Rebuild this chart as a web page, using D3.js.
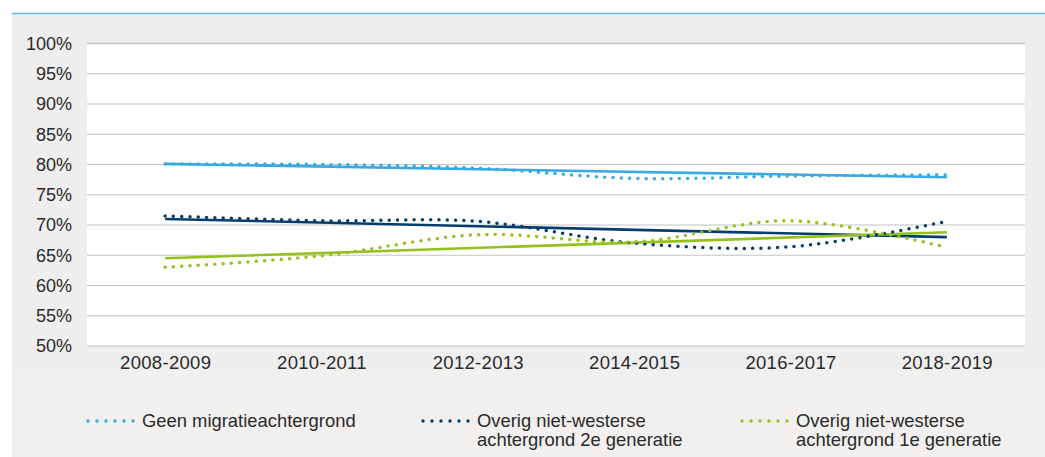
<!DOCTYPE html>
<html><head><meta charset="utf-8">
<script src="https://cdn.jsdelivr.net/npm/d3@7"></script>
<style>
html,body{margin:0;padding:0;background:#fff;}
svg{display:block;font-family:"Liberation Sans",Arial,sans-serif;}
</style></head>
<body>
<svg id="chart" width="1045" height="457"></svg>
<script>
// ---- data ----
const categories = ["2008-2009","2010-2011","2012-2013","2014-2015","2016-2017","2018-2019"];
const geenMigratie = [80.1, 80.0, 79.4, 77.7, 78.1, 78.3];
const tweedeGeneratie = [71.5, 70.7, 70.6, 67.0, 66.4, 70.6];
const eersteGeneratie = [63.0, 64.9, 68.4, 67.2, 70.7, 66.3];
// linear trendlines (first and last category)
const trendGeen = [80.1, 77.9];
const trendTweede = [71.0, 68.0];
const trendEerste = [64.5, 68.8];
const yTicks = [50,55,60,65,70,75,80,85,90,95,100];
const legendLabels = [
  ["Geen migratieachtergrond"],
  ["Overig niet-westerse","achtergrond 2e generatie"],
  ["Overig niet-westerse","achtergrond 1e generatie"]
];

const colors = ["#38a9e1", "#053d6c", "#95c11f"];
const series = [
  {values: geenMigratie, trend: trendGeen, color: colors[0]},
  {values: tweedeGeneratie, trend: trendTweede, color: colors[1]},
  {values: eersteGeneratie, trend: trendEerste, color: colors[2]}
];

const svg = d3.select("#chart");
const plot = {left: 87, right: 1025, top: 43.5, bottom: 346};

// background panels
svg.append("rect").attr("x",12).attr("y",14).attr("width",1033).attr("height",355).attr("fill","#eeeeee");
svg.append("rect").attr("x",12).attr("y",369).attr("width",1033).attr("height",88).attr("fill","#f2f0ee");
svg.append("line").attr("x1",12).attr("x2",1045).attr("y1",13.5).attr("y2",13.5)
  .attr("stroke","#62b7e6").attr("stroke-width",1.5);
svg.append("rect").attr("x",plot.left).attr("y",plot.top).attr("width",plot.right-plot.left)
  .attr("height",plot.bottom-plot.top).attr("fill","#ffffff");

const x = d3.scalePoint().domain(categories).range([plot.left, plot.right]).padding(0.5);
const y = d3.scaleLinear().domain([50,100]).range([plot.bottom, plot.top]);

// gridlines
svg.append("g").selectAll("line").data(yTicks).join("line")
  .attr("x1",plot.left).attr("x2",plot.right)
  .attr("y1",d=>y(d)).attr("y2",d=>y(d))
  .attr("stroke","#c3c3c3").attr("stroke-width",d=>d===100?1.6:1.1);

// y axis labels
const yAxis = d3.axisLeft(y).tickValues(yTicks).tickFormat(d=>d+"%").tickSize(0).tickPadding(0);
const gy = svg.append("g").attr("transform","translate(72,0)").call(yAxis);
gy.select(".domain").remove();
gy.selectAll("text").attr("font-size",18).attr("fill","#2a2a2a")
  .attr("font-family","'Liberation Sans',Arial,sans-serif");

// x axis labels
const xAxis = d3.axisBottom(x).tickSize(0).tickPadding(0);
const gx = svg.append("g").attr("transform","translate(0,355)").call(xAxis);
gx.select(".domain").remove();
gx.selectAll("text").attr("font-size",18.5).attr("fill","#2a2a2a").attr("dy","0.78em")
  .attr("letter-spacing","0.3px")
  .attr("font-family","'Liberation Sans',Arial,sans-serif");

// trendlines
const trendLine = d3.line().x(d=>x(d[0])).y(d=>y(d[1]));
series.forEach(s=>{
  svg.append("path")
    .attr("d", trendLine([[categories[0], s.trend[0]],[categories[categories.length-1], s.trend[1]]]))
    .attr("fill","none").attr("stroke",s.color).attr("stroke-width",2.6);
});

// smoothed dotted series
const smooth = d3.line().x((d,i)=>x(categories[i])).y(d=>y(d)).curve(d3.curveCardinal.tension(0));
series.forEach(s=>{
  svg.append("path").attr("d", smooth(s.values))
    .attr("fill","none").attr("stroke",s.color).attr("stroke-width",3.5)
    .attr("stroke-linecap","round").attr("stroke-dasharray","0 8.3");
});

// legend
const legendX = [88, 423, 742];
legendLabels.forEach((lines,i)=>{
  const g = svg.append("g").attr("transform",`translate(${legendX[i]},0)`);
  g.append("line").attr("x1",0).attr("x2",45.5).attr("y1",421).attr("y2",421)
    .attr("stroke",colors[i]).attr("stroke-width",3.4).attr("stroke-linecap","round")
    .attr("stroke-dasharray","0 9");
  const t = g.append("text").attr("x",54).attr("y",427).attr("font-size",18.4).attr("fill","#2a2a2a");
  lines.forEach((l,j)=>{
    t.append("tspan").attr("x",54).attr("dy", j===0?0:18.5).text(l);
  });
});
</script>
</body></html>
